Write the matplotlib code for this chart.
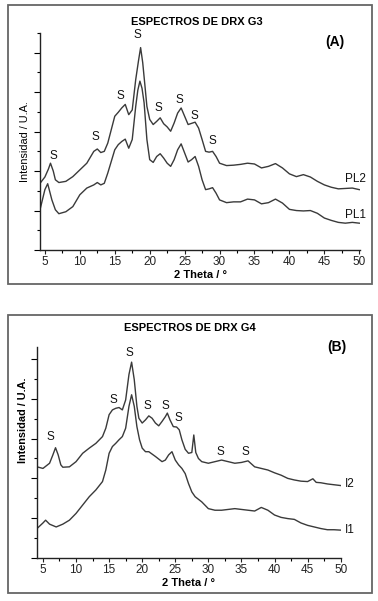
import matplotlib
matplotlib.use("Agg")
import matplotlib.pyplot as plt
from matplotlib.patches import Rectangle
from matplotlib.ticker import MultipleLocator

plt.rcParams['font.family'] = ['Liberation Sans', 'DejaVu Sans']

# ---------------- Panel A data (G3) ----------------
pl2_x = [4.3, 5.0, 5.5, 5.8, 6.2, 6.5, 7, 8, 9, 10, 11, 12, 12.5, 13, 13.5, 14, 15, 15.5, 16, 16.5,
         17, 17.5, 18, 18.4, 18.7, 19.0, 19.3, 19.6, 20, 20.5, 21, 21.5, 22, 22.5, 23, 23.5, 24, 24.5,
         25, 25.5, 26, 26.5, 27, 27.5, 28, 28.5, 29, 29.5, 30, 31, 32, 33, 34, 35, 36, 37, 38, 39,
         40, 41, 42, 43, 44, 45, 46, 47, 48, 49, 50]
pl2_y = [1.69, 1.85, 2.05, 2.20, 2.00, 1.78, 1.71, 1.74, 1.86, 2.03, 2.20, 2.50, 2.56, 2.47, 2.50, 2.71,
         3.39, 3.49, 3.60, 3.69, 3.43, 3.55, 4.32, 4.80, 5.13, 4.75, 4.20, 3.64, 3.31, 3.18, 3.26, 3.35,
         3.20, 3.12, 3.01, 3.22, 3.47, 3.60, 3.39, 3.18, 3.21, 3.24, 3.09, 2.80, 2.50, 2.48, 2.50, 2.37,
         2.20, 2.14, 2.15, 2.17, 2.20, 2.18, 2.08, 2.12, 2.19, 2.08, 1.93, 1.86, 1.91, 1.85, 1.74, 1.65,
         1.59, 1.55, 1.56, 1.57, 1.53]

pl1_x = [4.3, 5.0, 5.4, 6.0, 6.5, 7, 8, 9, 10, 11, 12, 12.5, 13, 13.5, 14, 15, 15.5, 16, 16.5, 17,
         17.5, 18, 18.3, 18.6, 18.9, 19.2, 19.6, 20, 20.5, 21, 21.5, 22, 22.5, 23, 23.5, 24, 24.5, 25,
         25.5, 26, 26.5, 27, 27.5, 28, 28.5, 29, 29.5, 30, 31, 32, 33, 34, 35, 36, 37, 38, 39, 40, 41,
         42, 43, 44, 45, 46, 47, 48, 49, 50]
pl1_y = [1.02, 1.53, 1.68, 1.27, 1.02, 0.92, 0.97, 1.10, 1.40, 1.57, 1.65, 1.71, 1.65, 1.69, 1.95, 2.54,
         2.67, 2.75, 2.81, 2.58, 2.80, 3.64, 4.05, 4.28, 4.10, 3.73, 2.80, 2.29, 2.22, 2.37, 2.44, 2.33,
         2.20, 2.12, 2.29, 2.54, 2.69, 2.46, 2.23, 2.29, 2.37, 2.12, 1.78, 1.53, 1.55, 1.58, 1.44, 1.27,
         1.20, 1.22, 1.22, 1.29, 1.27, 1.17, 1.20, 1.29, 1.19, 1.03, 1.00, 0.99, 1.00, 0.93, 0.81, 0.75,
         0.70, 0.68, 0.70, 0.68]

a_s_x = [6.2, 12.25, 15.8, 18.3, 21.3, 24.2, 26.4, 28.9]
a_s_y = [2.39, 2.86, 3.90, 5.44, 3.60, 3.80, 3.39, 2.75]
a_names = ["PL2", "PL1"]
a_name_x = [47.9, 47.9]
a_name_y = [1.81, 0.89]

# ---------------- Panel B data (G4) ----------------
i2_x = [4.1, 5, 6, 6.5, 6.9, 7.3, 7.7, 8, 9, 10, 11, 12, 13, 14, 14.5, 15, 15.5, 16, 16.5, 17, 17.5,
        18, 18.4, 18.8, 19.2, 19.5, 20, 20.5, 21, 21.5, 22, 22.5, 23, 23.5, 23.8, 24.2, 24.7, 25.2,
        25.6, 26, 26.5, 27, 27.5, 27.8, 28.1, 28.5, 29, 30, 31, 32, 33, 34, 35, 36, 37, 38, 39, 40,
        41, 42, 43, 44, 45, 45.8, 46.3, 47, 48, 49, 50]
i2_y = [2.29, 2.25, 2.38, 2.59, 2.77, 2.59, 2.34, 2.28, 2.29, 2.42, 2.63, 2.76, 2.88, 3.05, 3.26, 3.60,
        3.72, 3.76, 3.78, 3.72, 3.97, 4.61, 4.92, 4.48, 3.81, 3.51, 3.39, 3.47, 3.57, 3.51, 3.39, 3.32,
        3.43, 3.55, 3.64, 3.47, 3.30, 3.29, 3.22, 2.97, 2.73, 2.63, 2.65, 3.09, 2.65, 2.50, 2.42, 2.38,
        2.42, 2.46, 2.42, 2.38, 2.40, 2.44, 2.29, 2.25, 2.21, 2.14, 2.08, 2.00, 1.96, 1.93, 1.92, 1.99,
        1.90, 1.89, 1.86, 1.84, 1.82]

i1_x = [4.1, 5, 5.4, 6, 7, 8, 9, 10, 11, 12, 13, 14, 14.5, 15, 15.5, 16, 16.5, 17, 17.5, 18, 18.4,
        18.8, 19.2, 19.6, 20, 20.5, 21, 22, 23, 23.5, 24, 24.5, 25, 25.5, 26, 26.5, 27, 27.5, 28, 29,
        30, 31, 32, 33, 34, 35, 36, 37, 38, 39, 40, 41, 42, 43, 44, 45, 46, 47, 48, 49, 50]
i1_y = [0.74, 0.88, 0.95, 0.85, 0.78, 0.85, 0.95, 1.12, 1.33, 1.54, 1.71, 1.92, 2.21, 2.63, 2.80, 2.88,
        2.97, 3.05, 3.26, 3.81, 4.10, 3.81, 3.30, 2.97, 2.76, 2.67, 2.67, 2.55, 2.42, 2.46, 2.59, 2.67,
        2.46, 2.34, 2.25, 2.12, 1.87, 1.66, 1.54, 1.41, 1.24, 1.20, 1.20, 1.22, 1.24, 1.22, 1.20, 1.18,
        1.27, 1.20, 1.08, 1.02, 0.99, 0.97, 0.88, 0.82, 0.78, 0.74, 0.71, 0.71, 0.70]

b_s_x = [6.1, 15.6, 18.0, 20.8, 23.45, 25.5, 31.8, 35.6]
b_s_y = [3.03, 3.97, 5.15, 3.83, 3.83, 3.51, 2.67, 2.67]
b_names = ["I2", "I1"]
b_name_x = [50.6, 50.6]
b_name_y = [1.85, 0.70]

W, H = 378, 601
fig = plt.figure(figsize=(W / 100, H / 100), dpi=100)

def px_rect(l, t, r, b):
    return [l / W, 1 - b / H, (r - l) / W, (b - t) / H]

LINE_C = "#3a3a3a"

def setup_axes(ax, xlim, ylim):
    ax.set_xlim(*xlim)
    ax.set_ylim(*ylim)
    for s in ("top", "right"):
        ax.spines[s].set_visible(False)
    for s in ("left", "bottom"):
        ax.spines[s].set_color("#222222")
        ax.spines[s].set_linewidth(1.0)
    ax.xaxis.set_minor_locator(MultipleLocator(2.5))
    ax.yaxis.set_major_locator(MultipleLocator(1))
    ax.yaxis.set_minor_locator(MultipleLocator(0.5))
    ax.set_xticks([5, 10, 15, 20, 25, 30, 35, 40, 45, 50])
    ax.tick_params(axis="x", which="major", length=3, width=0.8, pad=1.5, labelsize=8.5, colors="#222222")
    ax.tick_params(axis="x", which="minor", length=2, width=0.8)
    ax.tick_params(axis="y", which="major", length=4, width=0.8, labelleft=False)
    ax.tick_params(axis="y", which="minor", length=2.5, width=0.8)
    ax.patch.set_alpha(0)

# Frames
fig.patches.append(Rectangle((8 / W, 1 - 284 / H), 364 / W, 279 / H, transform=fig.transFigure,
                             fill=False, edgecolor="#666666", linewidth=1.3))
fig.patches.append(Rectangle((8 / W, 1 - 593 / H), 364 / W, 278 / H, transform=fig.transFigure,
                             fill=False, edgecolor="#666666", linewidth=1.3))

# ---- Panel A ----
axA = fig.add_axes(px_rect(40, 33, 360, 250))
setup_axes(axA, (4.3, 50.1), (0, 5.5))
axA.plot(pl2_x, pl2_y, color=LINE_C, lw=1.0)
axA.plot(pl1_x, pl1_y, color=LINE_C, lw=1.0)
for x, y in zip(a_s_x, a_s_y):
    axA.text(x, y, "S", ha="center", va="center", fontsize=8.5, color="#111111")
for n, x, y in zip(a_names, a_name_x, a_name_y):
    axA.text(x, y, n, ha="left", va="center", fontsize=8.5, color="#111111", clip_on=False)
axA.set_xlabel("2 Theta / °", fontsize=8, fontweight="bold", labelpad=1)
axA.set_ylabel("Intensidad / U.A.", fontsize=7.8)
axA.yaxis.set_label_coords((30 - 40) / 320, 0.5)
fig.text(197 / W, 1 - 22 / H, "ESPECTROS DE DRX G3", ha="center", va="center",
         fontsize=8, fontweight="bold")
fig.text(335 / W, 1 - 42 / H, "(A)", ha="center", va="center", fontsize=10, fontweight="bold")

# ---- Panel B ----
axB = fig.add_axes(px_rect(37, 347, 341, 558))
setup_axes(axB, (4.1, 50.05), (0, 5.3))
axB.plot(i2_x, i2_y, color=LINE_C, lw=1.0)
axB.plot(i1_x, i1_y, color=LINE_C, lw=1.0)
for x, y in zip(b_s_x, b_s_y):
    axB.text(x, y, "S", ha="center", va="center", fontsize=8.5, color="#111111")
for n, x, y in zip(b_names, b_name_x, b_name_y):
    axB.text(x, y, n, ha="left", va="center", fontsize=8.5, color="#111111", clip_on=False)
axB.set_xlabel("2 Theta / °", fontsize=8, fontweight="bold", labelpad=1)
axB.set_ylabel("Intensidad / U.A.", fontsize=7.8, fontweight="bold")
axB.yaxis.set_label_coords((28 - 37) / 304, (558 - 420) / 211)
fig.text(190 / W, 1 - 328 / H, "ESPECTROS DE DRX G4", ha="center", va="center",
         fontsize=8, fontweight="bold")
fig.text(337 / W, 1 - 347 / H, "(B)", ha="center", va="center", fontsize=10, fontweight="bold")

fig.savefig("out.png", dpi=100)
